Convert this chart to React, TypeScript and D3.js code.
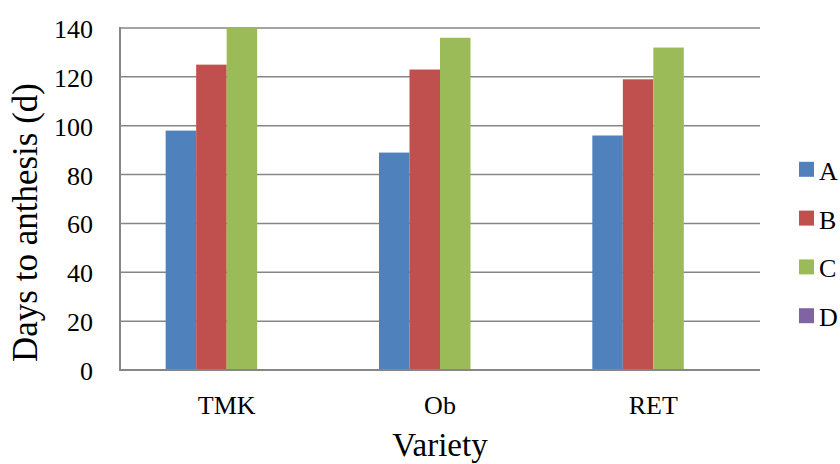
import React from "react";
import * as d3 from "d3";

const categories = ["TMK", "Ob", "RET"];
const seriesNames = ["A", "B", "C", "D"];
const seriesA = [98, 89, 96];
const seriesB = [125, 123, 119];
const seriesC = [140, 136, 132];
const seriesD = [0, 0, 0];
const colors = ["#4F81BD", "#C0504D", "#9BBB59", "#8064A2"];
const yTicks = [0, 20, 40, 60, 80, 100, 120, 140];

export default function App() {
  const W = 840, H = 464;
  const left = 120, right = 760, top = 28, bottom = 370;
  const values = [seriesA, seriesB, seriesC, seriesD];
  const x = d3.scaleBand().domain(categories).range([left, right]).paddingInner(0).paddingOuter(0);
  const y = d3.scaleLinear().domain([0, 140]).range([bottom, top]);
  const groupW = x.bandwidth() * 0.572;
  const x1 = d3.scaleBand().domain(seriesNames).range([0, groupW]);
  const font = "'Liberation Serif', 'Times New Roman', serif";
  return (
    <svg width={W} height={H} style={{ position: "absolute", left: 0, top: 0, background: "#fff" }}>
      {yTicks.map((t) => (
        <line key={"g" + t} x1={left} x2={right} y1={y(t)} y2={y(t)} stroke="#868686" strokeWidth={1.5} />
      ))}
      {categories.map((c, ci) => (
        <g key={c} transform={`translate(${x(c)! + (x.bandwidth() - groupW) / 2},0)`}>
          {seriesNames.map((s, si) => (
            <rect key={s} x={x1(s)} width={x1.bandwidth()} y={y(values[si][ci])} height={bottom - y(values[si][ci])} fill={colors[si]} />
          ))}
        </g>
      ))}
      <line x1={left} x2={left} y1={top - 1} y2={bottom + 1} stroke="#868686" strokeWidth={2} />
      <line x1={left - 1} x2={right} y1={bottom} y2={bottom} stroke="#868686" strokeWidth={2} />
      {yTicks.map((t) => (
        <text key={"l" + t} x={93} y={y(t) + 10} textAnchor="end" fontFamily={font} fontSize={26} fill="#000">{t}</text>
      ))}
      {categories.map((c) => (
        <text key={"c" + c} x={x(c)! + x.bandwidth() / 2} y={414} textAnchor="middle" fontFamily={font} fontSize={26} fill="#000">{c}</text>
      ))}
      <text x={440} y={456} textAnchor="middle" fontFamily={font} fontSize={33} fill="#000">Variety</text>
      <text transform={`translate(37,222.5) rotate(-90)`} textAnchor="middle" fontFamily={font} fontSize={35} fill="#000">Days to anthesis (d)</text>
      {seriesNames.map((s, i) => (
        <g key={"lg" + s} transform={`translate(799,${169.3 + i * 48.8})`}>
          <rect x={0} y={-7.5} width={15} height={15} fill={colors[i]} />
          <text x={20} y={10.5} fontFamily={font} fontSize={26} fill="#000">{s}</text>
        </g>
      ))}
    </svg>
  );
}
